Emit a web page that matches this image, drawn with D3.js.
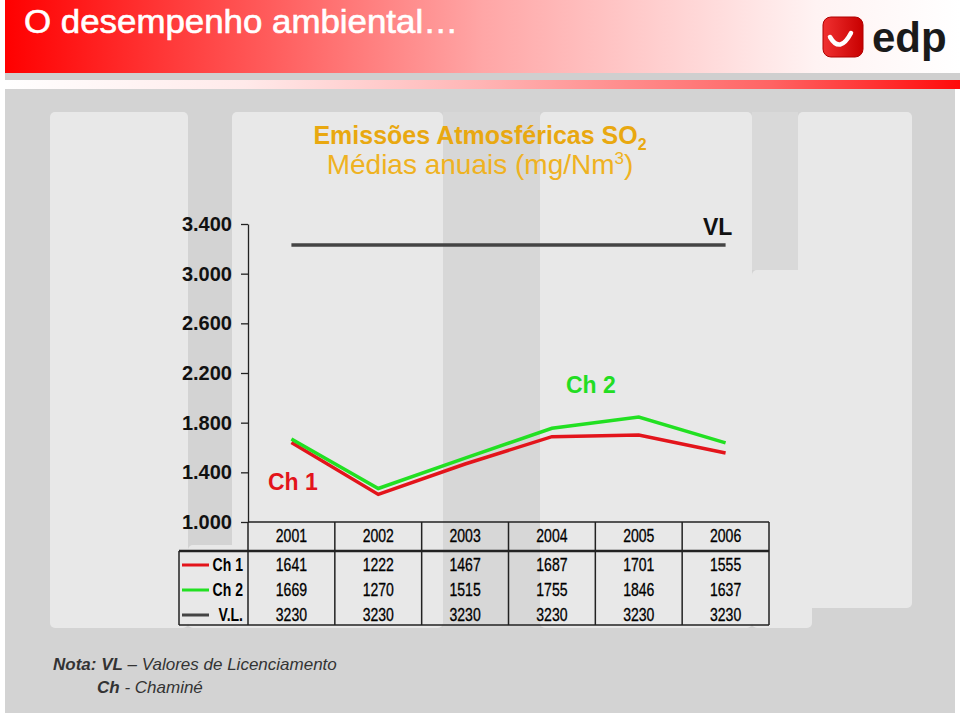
<!DOCTYPE html>
<html>
<head>
<meta charset="utf-8">
<script src="https://cdn.jsdelivr.net/npm/d3@7"></script>
<style>
  body { margin: 0; background: #fff; }
  svg { display: block; font-family: "Liberation Sans", Arial, sans-serif; }
</style>
</head>
<body>
<svg id="chart"></svg>
<script>
// data
const years = ["2001", "2002", "2003", "2004", "2005", "2006"];
const ch1 = [1641, 1222, 1467, 1687, 1701, 1555];
const ch2 = [1669, 1270, 1515, 1755, 1846, 1637];
const vl = [3230, 3230, 3230, 3230, 3230, 3230];
const yTicks = [1000, 1400, 1800, 2200, 2600, 3000, 3400];
const seriesNames = ["Ch 1", "Ch 2", "V.L."];

const width = 960, height = 716;
const svg = d3.select("#chart").attr("width", width).attr("height", height);
const defs = svg.append("defs");

function gradient(id, stops) {
    const g = defs.append("linearGradient").attr("id", id)
        .attr("x1", "0%").attr("x2", "100%").attr("y1", "0%").attr("y2", "0%");
    stops.forEach(s => g.append("stop").attr("offset", s[0]).attr("stop-color", s[1]));
}
gradient("topband", [[0, "#ff0000"], [0.5, "#ffa6a6"], [0.85, "#fff3f3"], [1, "#ffffff"]]);
gradient("stripe", [[0, "#ffffff"], [0.25, "#ffeaea"], [0.5, "#ffb4b4"], [0.8, "#ff6464"], [1, "#ff0a0a"]]);
gradient("logo", [[0, "#f03030"], [1, "#c80000"]]);

// header
svg.append("rect").attr("x", 5).attr("y", 0).attr("width", 955).attr("height", 73).attr("fill", "url(#topband)");
svg.append("rect").attr("x", 5).attr("y", 73).attr("width", 955).attr("height", 7).attr("fill", "#cfcfcf");
svg.append("rect").attr("x", 5).attr("y", 80).attr("width", 955).attr("height", 9).attr("fill", "url(#stripe)");
svg.append("text").attr("x", 24).attr("y", 33)
    .attr("textLength", 434).attr("lengthAdjust", "spacingAndGlyphs")
    .style("font-size", "33px").attr("fill", "#fff")
    .attr("stroke", "#fff").attr("stroke-width", 0.6)
    .text("O desempenho ambiental…");

// logo
svg.append("rect").attr("x", 823).attr("y", 17).attr("width", 40).attr("height", 40).attr("rx", 8)
    .attr("fill", "url(#logo)").attr("stroke", "#b00000").attr("stroke-width", 1);
svg.append("path").attr("d", "M830,37 Q840,54 851,33")
    .attr("fill", "none").attr("stroke", "#fff").attr("stroke-width", 4.5).attr("stroke-linecap", "round");
svg.append("text").attr("x", 872).attr("y", 52)
    .style("font-size", "42px").style("font-weight", "bold").attr("fill", "#1a1a1a")
    .text("edp");

// background panels
svg.append("rect").attr("x", 5).attr("y", 89).attr("width", 950).attr("height", 624).attr("fill", "#d3d3d3");
svg.append("rect").attr("x", 443).attr("y", 112).attr("width", 97).attr("height", 516).attr("fill", "#d7d7d7");
const panels = [
    [50, 112, 138, 516],
    [232, 112, 211, 516],
    [540, 112, 212, 516],
    [798, 112, 114, 496],
    [752, 270, 60, 358],
    [188, 545, 50, 83]
];
svg.append("g").selectAll("rect").data(panels).enter().append("rect")
    .attr("x", d => d[0]).attr("y", d => d[1]).attr("width", d => d[2]).attr("height", d => d[3])
    .attr("rx", 5).attr("fill", "#e8e8e8");
svg.append("rect").attr("x", 752).attr("y", 112).attr("width", 46).attr("height", 158).attr("fill", "#d9d9d9");

// title
const title = svg.append("text").attr("x", 480).attr("y", 144).attr("text-anchor", "middle")
    .style("font-size", "25px").style("font-weight", "bold").attr("fill", "#e9a810");
title.append("tspan").text("Emissões Atmosféricas SO");
title.append("tspan").attr("dy", 6).style("font-size", "16px").text("2");
const sub = svg.append("text").attr("x", 480).attr("y", 174).attr("text-anchor", "middle")
    .style("font-size", "28px").attr("fill", "#efb222");
sub.append("tspan").text("Médias anuais (mg/Nm");
sub.append("tspan").attr("dy", -10).style("font-size", "17px").text("3");
sub.append("tspan").attr("dy", 10).text(")");

// scales
const x = d3.scaleBand().domain(years).range([248, 769]);
const cx = d => x(d) + x.bandwidth() / 2;
const y = d3.scaleLinear().domain([1000, 3400]).range([522, 224]);

const pt = d3.formatLocale({decimal: ",", thousands: ".", grouping: [3], currency: ["", "€"]});

const yAxis = svg.append("g").attr("transform", "translate(248,0)")
    .call(d3.axisLeft(y).tickValues(yTicks).tickSize(7).tickSizeOuter(0).tickPadding(9).tickFormat(pt.format(",")));
yAxis.selectAll("text").style("font-size", "20px").style("font-weight", "bold")
    .style("font-family", "'Liberation Sans', Arial, sans-serif").attr("fill", "#111");
yAxis.selectAll("line, path").attr("stroke", "#222").attr("stroke-width", 1.3);

// lines
const line = d3.line().x((d, i) => cx(years[i])).y(d => y(d));
const colors = ["#e3141b", "#22e022", "#444444"];
svg.append("path").datum(vl).attr("d", line).attr("fill", "none").attr("stroke", colors[2]).attr("stroke-width", 3.5);
svg.append("path").datum(ch1).attr("d", line).attr("fill", "none").attr("stroke", colors[0]).attr("stroke-width", 3.5);
svg.append("path").datum(ch2).attr("d", line).attr("fill", "none").attr("stroke", colors[1]).attr("stroke-width", 3.5);

// series labels
svg.append("text").attr("x", 268).attr("y", 490).style("font-size", "23px").style("font-weight", "bold")
    .attr("fill", "#e3141b").text("Ch 1");
svg.append("text").attr("x", 566).attr("y", 393).style("font-size", "23px").style("font-weight", "bold")
    .attr("fill", "#22dd22").text("Ch 2");
svg.append("text").attr("x", 703).attr("y", 235).style("font-size", "23px").style("font-weight", "bold")
    .attr("fill", "#111").text("VL");

// data table
const tTop = 522, tHead = 551, tBottom = 625, tLeft = 179, tRight = x.range()[1];
const table = svg.append("g").attr("stroke", "#222").attr("stroke-width", 1.5);
table.append("line").attr("x1", 248).attr("x2", tRight).attr("y1", tTop).attr("y2", tTop);
table.append("line").attr("x1", tLeft).attr("x2", tRight).attr("y1", tHead).attr("y2", tHead).attr("stroke-width", 2.5);
table.append("line").attr("x1", tLeft).attr("x2", tRight).attr("y1", tBottom).attr("y2", tBottom);
table.append("line").attr("x1", tLeft).attr("x2", tLeft).attr("y1", tHead).attr("y2", tBottom);
table.selectAll(".col").data(years).enter().append("line")
    .attr("x1", d => x(d)).attr("x2", d => x(d)).attr("y1", tTop).attr("y2", tBottom);
table.append("line").attr("x1", tRight).attr("x2", tRight).attr("y1", tTop).attr("y2", tBottom);

function cell(txt, px, py, bold, anchor) {
    svg.append("text").attr("transform", `translate(${px},${py}) scale(0.78,1)`)
        .attr("text-anchor", anchor || "middle")
        .style("font-size", "18px").style("font-weight", bold ? "bold" : "normal")
        .attr("fill", "#000").attr("stroke", "#000").attr("stroke-width", bold ? 0 : 0.3)
        .text(txt);
}
years.forEach(yr => cell(yr, cx(yr), 542, false));
const rows = [ch1, ch2, vl];
const rowY = [571, 596, 621];
rows.forEach((vals, r) => {
    vals.forEach((v, i) => cell(v, cx(years[i]), rowY[r], false));
    cell(seriesNames[r], 243, rowY[r], true, "end");
    svg.append("line").attr("x1", 182).attr("x2", 209).attr("y1", rowY[r] - 6).attr("y2", rowY[r] - 6)
        .attr("stroke", colors[r]).attr("stroke-width", 3);
});

// note
const n1 = svg.append("text").attr("x", 53).attr("y", 670).style("font-size", "17px")
    .style("font-style", "italic").attr("fill", "#333");
n1.append("tspan").style("font-weight", "bold").text("Nota: VL");
n1.append("tspan").text(" – Valores de Licenciamento");
const n2 = svg.append("text").attr("x", 97).attr("y", 693).style("font-size", "17px")
    .style("font-style", "italic").attr("fill", "#333");
n2.append("tspan").style("font-weight", "bold").text("Ch");
n2.append("tspan").text(" - Chaminé");
</script>
</body>
</html>
